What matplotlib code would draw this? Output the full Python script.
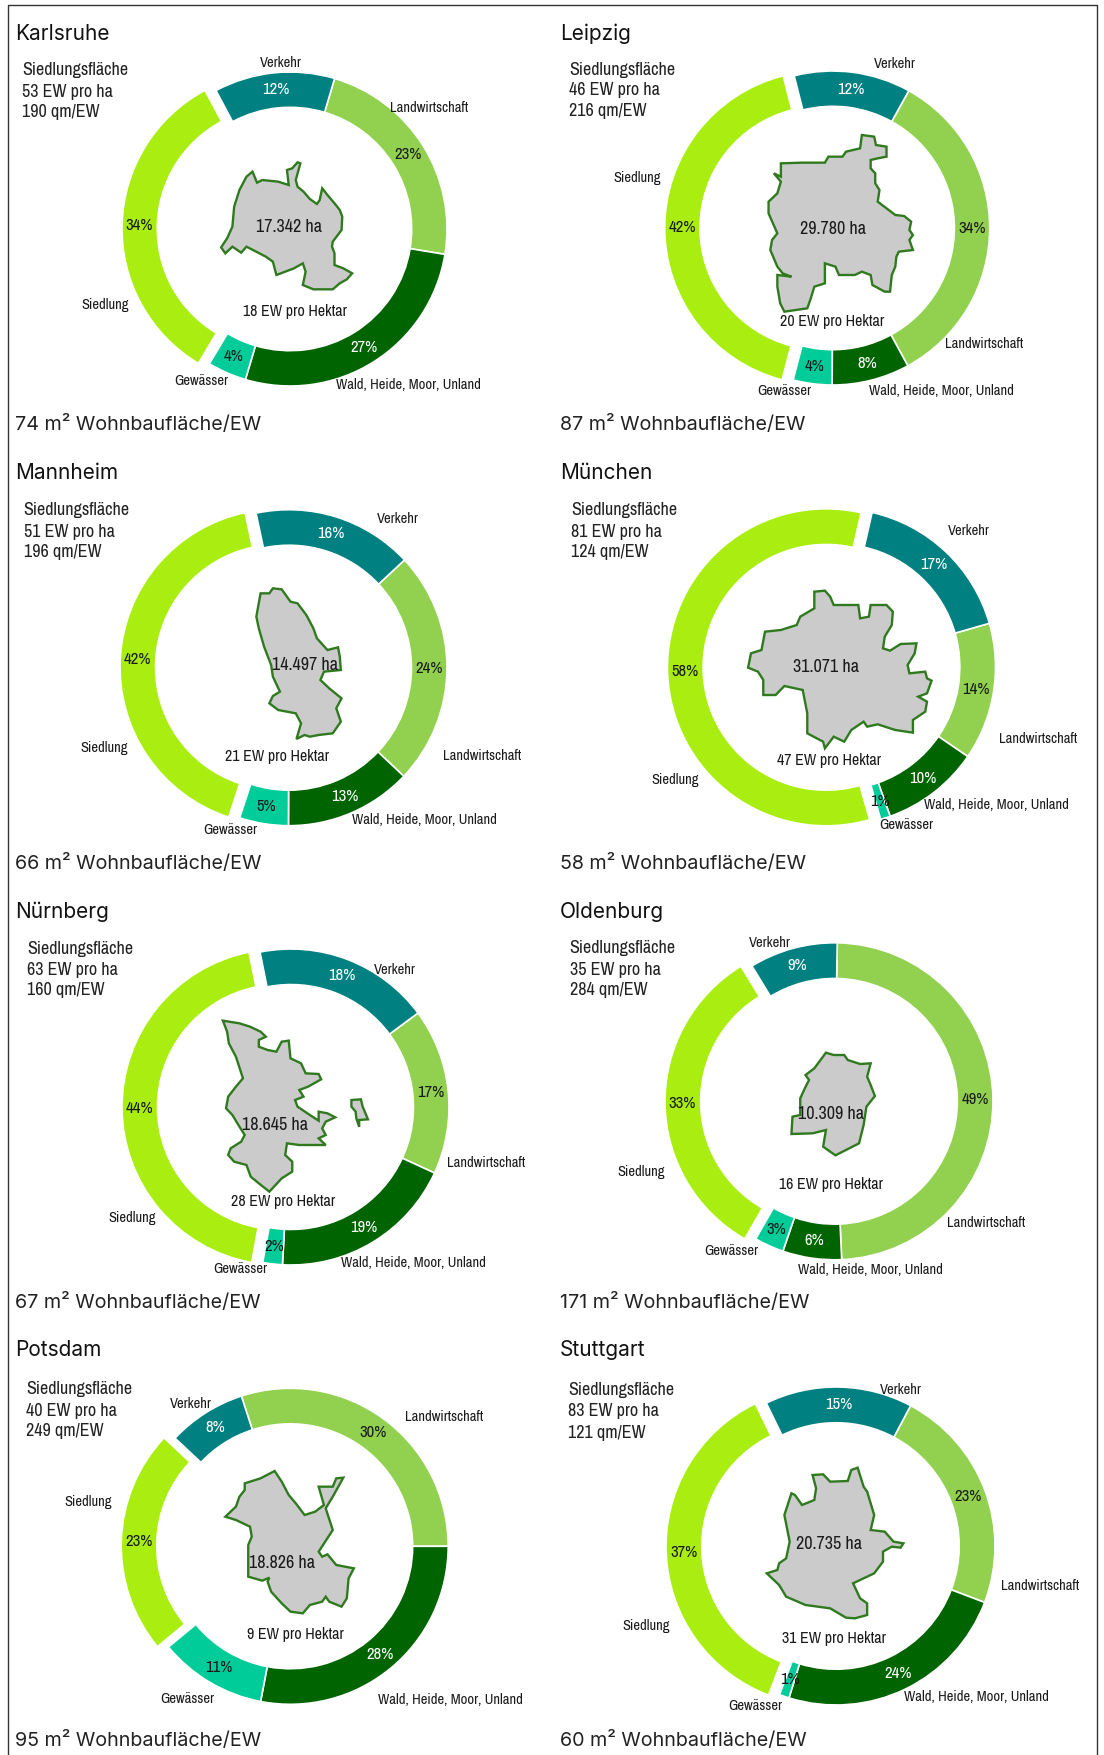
import matplotlib
matplotlib.use('Agg')
import matplotlib.pyplot as plt
from matplotlib.patches import Polygon

# data
cities = ['Karlsruhe', 'Leipzig', 'Mannheim', 'München', 'Nürnberg', 'Oldenburg', 'Potsdam', 'Stuttgart']
categories = ['Landwirtschaft', 'Wald, Heide, Moor, Unland', 'Gewässer', 'Siedlung', 'Verkehr']
landwirtschaft = [23, 34, 24, 14, 17, 49, 30, 23]
wald = [27, 8, 13, 10, 19, 6, 28, 24]
gewaesser = [4, 4, 5, 1, 2, 3, 11, 1]
siedlung = [33.6, 42, 41.6, 58, 44, 33, 23, 37]
verkehr = [12.4, 12, 16.4, 17, 18, 9, 8, 15]
ew_pro_ha = [53, 46, 51, 81, 63, 35, 40, 83]
qm_pro_ew = [190, 216, 196, 124, 160, 284, 249, 121]
flaeche_ha = ['17.342', '29.780', '14.497', '31.071', '18.645', '10.309', '18.826', '20.735']
ew_pro_hektar = [18, 20, 21, 47, 28, 16, 9, 31]
wohnbau = [74, 87, 66, 58, 67, 171, 95, 60]

# city outlines
karlsruhe = [(845,487),(853,490),(840,540),(845,560),(862,575),(880,597),(900,612),(908,600),(915,565),(930,585),(950,610),(965,630),(972,650),(970,690),(945,725),(943,740),(950,760),(950,795),(975,805),(1000,820),(985,838),(965,850),(945,868),(890,868),(860,855),(868,815),(860,790),(835,805),(785,825),(775,785),(755,770),(700,740),(685,758),(660,740),(640,760),(628,742),(645,715),(660,680),(665,620),(680,570),(700,530),(717,515),(730,548),(745,540),(790,545),(820,555),(815,510),(830,505)]
leipzig = [(880,405),(915,410),(920,435),(950,440),(950,470),(925,475),(905,480),(905,505),(918,520),(918,550),(930,570),(925,605),(950,625),(975,645),(1000,648),(1020,665),(1015,690),(1025,705),(1015,720),(1025,750),(985,755),(978,770),(975,800),(965,825),(960,875),(945,875),(910,855),(905,825),(880,815),(860,825),(815,825),(805,800),(775,790),(775,850),(745,860),(735,895),(725,925),(660,935),(648,910),(640,860),(640,825),(680,830),(655,820),(640,800),(620,750),(625,720),(640,700),(615,640),(615,605),(640,580),(650,545),(630,520),(650,530),(650,490),(710,488),(775,488),(785,470),(825,470),(835,455),(875,445)]
mannheim = [(740,460),(765,460),(775,445),(800,448),(825,485),(845,490),(870,525),(890,565),(900,595),(930,630),(960,622),(965,650),(968,690),(920,695),(910,720),(935,745),(970,775),(955,805),(968,845),(945,880),(905,885),(880,890),(865,885),(842,897),(855,850),(840,820),(790,810),(765,790),(775,768),(795,755),(775,710),(770,675),(750,620),(735,565),(728,530)]
muenchen = [(745,455),(775,452),(790,470),(800,495),(870,495),(875,535),(900,530),(905,495),(950,495),(968,515),(965,555),(945,590),(940,625),(960,632),(990,612),(1035,610),(1030,640),(1010,675),(1015,700),(1060,695),(1065,715),(1078,722),(1065,760),(1040,770),(1065,785),(1060,815),(1025,840),(1025,878),(975,870),(925,853),(895,860),(885,845),(850,870),(830,905),(800,890),(775,925),(770,905),(725,880),(725,820),(712,750),(660,738),(635,765),(600,765),(600,720),(585,695),(557,683),(565,640),(595,630),(605,575),(650,570),(695,555),(705,530),(745,505)]
nuernberg = [(633,422),(680,430),(710,440),(740,455),(755,470),(735,480),(735,500),(760,510),(785,515),(800,485),(820,482),(825,535),(855,550),(868,580),(905,582),(912,598),(875,620),(850,630),(862,650),(838,660),(845,680),(880,705),(905,722),(905,695),(930,700),(952,712),(925,725),(915,745),(925,765),(905,775),(925,795),(850,795),(815,790),(810,825),(830,845),(830,875),(800,895),(765,935),(735,910),(712,890),(700,855),(665,845),(648,825),(655,805),(685,785),(695,765),(680,740),(660,705),(642,685),(648,650),(670,620),(690,595),(670,530),(650,490),(645,455)]
nuernberg_insel = [(998,660),(1025,658),(1030,680),(1045,718),(1020,720),(1020,740),(1012,715),(1010,695),(998,680)]
oldenburg = [(778,518),(800,525),(830,525),(840,540),(875,552),(905,550),(895,590),(905,615),(917,648),(893,680),(885,735),(872,790),(805,826),(770,800),(778,750),(740,760),(680,762),(683,710),(705,705),(705,655),(718,625),(730,600),(720,585),(745,565)]
potsdam = [(780,468),(800,500),(820,540),(840,565),(865,600),(895,590),(920,570),(905,515),(945,515),(955,490),(975,488),(945,545),(925,580),(945,645),(905,710),(915,725),(930,718),(955,750),(1005,760),(990,790),(985,850),(970,875),(935,860),(925,845),(915,860),(880,870),(860,895),(825,890),(800,865),(770,830),(760,800),(765,788),(745,797),(705,785),(705,690),(715,665),(710,635),(670,615),(640,605),(670,575),(680,545),(695,525),(695,505),(740,490)]
stuttgart = [(740,480),(770,478),(790,500),(840,498),(850,465),(868,458),(885,515),(895,530),(915,600),(905,645),(945,650),(970,680),(998,685),(990,698),(965,695),(940,710),(940,740),(915,775),(855,805),(875,850),(895,865),(895,900),(860,910),(835,908),(790,880),(720,870),(665,845),(645,810),(610,775),(640,765),(645,745),(665,730),(675,680),(660,600),(680,535),(690,540),(710,570),(745,555),(750,520)]
outlines = [[karlsruhe], [leipzig], [mannheim], [muenchen], [nuernberg, nuernberg_insel], [oldenburg], [potsdam], [stuttgart]]

# layout, in pixels of the full picture
W, H = 1104, 1755
origin = [(0, 0), (552, 0), (0, 440), (552, 440), (0, 880), (552, 880), (0, 1315), (552, 1315)]
ring_x = [290, 832.7, 289, 837, 291, 834.5, 290.2, 836]
ring_y = [229, 228, 667.7, 667, 1107, 1101.3, 1546.3, 1546]
ring_r = [157, 157, 158, 158.5, 158, 158.5, 158, 159]
start = [16.5, 29, 47, 74, 53.5, 1, -18, 28]

# label positions in the 2.84 x 3 crop coordinates of each panel
title_pos = [(43,95), (23,95), (43,92), (23,92), (43,90), (23,90), (43,100), (23,100)]
info_x = [63, 48, 67, 55, 78, 50, 75, 45]
info_y = [(207,272,332), (207,268,330), (208,273,333), (208,273,333), (205,267,328), (202,266,326), (220,284,345), (221,286,350)]
foot_pos = [(43,1268), (23,1268), (43,1265), (23,1265), (43,1260), (23,1262), (43,1270), (23,1270)]
ha_pos = [(820,677), (797,684), (865,672), (778,678), (780,732), (792,700), (800,740), (786,684)]
hektar_pos = [(838,930), (795,960), (788,945), (788,957), (805,962), (793,912), (838,957), (801,969)]
landw_pos = [(1218,320), (1227,1030), (1368,946), (1380,893), (1380,847), (1233,1026), (1262,303), (1387,809)]
wald_pos = [(1160,1152), (1105,1170), (1205,1136), (1263,1093), (1175,1146), (905,1167), (1280,1152), (1205,1144)]
gew_pos = [(572,1140), (660,1170), (653,1167), (1005,1152), (683,1165), (508,1109), (533,1148), (577,1170)]
siedl_pos = [(298,912), (243,530), (297,920), (350,1017), (376,1012), (252,873), (251,558), (267,931)]
verk_pos = [(798,187), (975,190), (1130,233), (1185,271), (1122,267), (620,187), (541,264), (992,222)]

colors = ['#92D050', '#006400', '#00CC99', '#A9EE10', '#008080']
pct_colors = ['#1a1a1a', 'white', '#1a1a1a', '#1a1a1a', 'white']
narrow = ['Archivo Narrow', 'Liberation Sans']
head = ['Inter', 'Roboto']

fig = plt.figure(figsize=(W/100, H/100), dpi=100)
ax = fig.add_axes([0, 0, 1, 1])


def px(i, p):
    return origin[i][0] + p[0]/2.84, H - (origin[i][1] + p[1]/3)


def label(i, p, s, size, fam, ha='center', down=1.0, color='#1a1a1a'):
    x, y = px(i, p)
    ax.text(x, y - down, s, fontsize=size, family=fam, color=color, va='center', ha=ha, zorder=7)


for i in range(len(cities)):
    values = [landwirtschaft[i], wald[i], gewaesser[i], siedlung[i], verkehr[i]]
    wedges, _, autotexts = ax.pie(values, colors=colors, center=(ring_x[i], H - ring_y[i]), radius=ring_r[i],
                                  startangle=90 - start[i], counterclock=False, explode=[0, 0, 0, 11, 0],
                                  autopct='%.0f%%', pctdistance=0.89, frame=True,
                                  wedgeprops=dict(width=0.225*ring_r[i], edgecolor='white', linewidth=1.2),
                                  textprops=dict(fontsize=12, family=narrow))
    for t, c in zip(autotexts, pct_colors):
        t.set_color(c)
        t.set_zorder(6)

    for shape in outlines[i]:
        ax.add_patch(Polygon([px(i, p) for p in shape], closed=True, facecolor='#CBCBCB',
                             edgecolor='#2F7A1E', linewidth=1.7, zorder=3))

    label(i, title_pos[i], cities[i], 15, head, ha='left', down=2, color='#111111')
    label(i, foot_pos[i], str(wohnbau[i]) + ' m² Wohnbaufläche/EW', 14.2, head, ha='left', down=2, color='#222222')

    info = ['Siedlungsfläche', str(ew_pro_ha[i]) + ' EW pro ha', str(qm_pro_ew[i]) + ' qm/EW']
    for line, yy in zip(info, info_y[i]):
        label(i, (info_x[i], yy), line, 13, narrow, ha='left', color='#222222')

    label(i, ha_pos[i], flaeche_ha[i] + ' ha', 13, narrow)
    label(i, hektar_pos[i], str(ew_pro_hektar[i]) + ' EW pro Hektar', 11.5, narrow)

    for name, pos in zip(categories, [landw_pos, wald_pos, gew_pos, siedl_pos, verk_pos]):
        label(i, pos[i], name, 10.5, narrow)

# frame round the whole picture, open at the bottom
ax.plot([7.5, 7.5, 1097, 1097], [0, H - 5, H - 5, 0], color='#333333', linewidth=1.0, zorder=8)

ax.set_xlim(0, W)
ax.set_ylim(0, H)
ax.axis('off')
fig.savefig('out.png', dpi=100)
